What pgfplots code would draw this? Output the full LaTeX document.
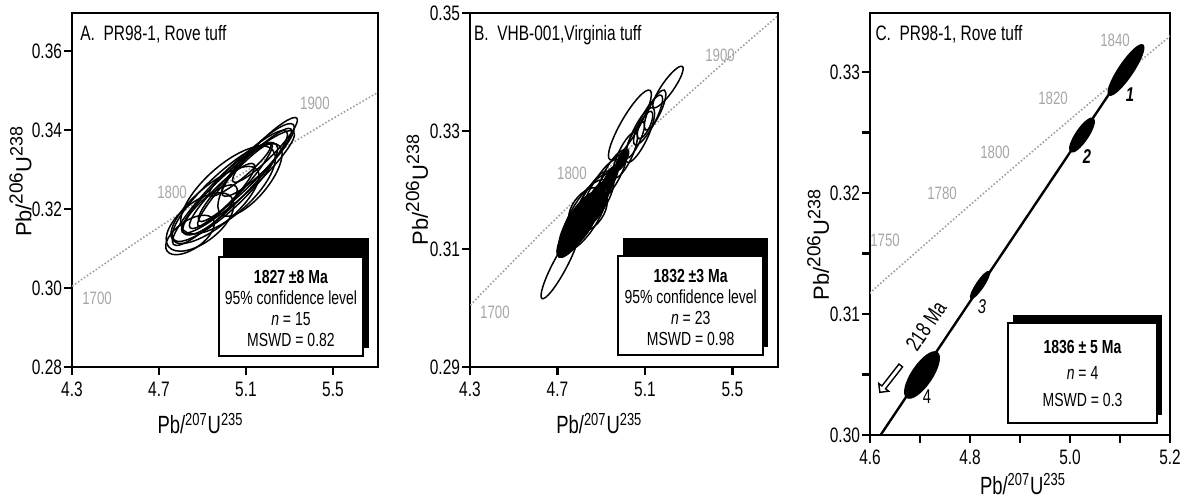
\documentclass[border=0pt]{standalone}
\usepackage{fontspec}
\setmainfont[FakeStretch=0.74]{Liberation Sans}
\newfontfamily\ylabfont{Liberation Sans}
\usepackage{pgfplots}
\pgfplotsset{compat=1.18}
\usepackage{pgfplotstable}
\usetikzlibrary{shapes.arrows}

\pgfdeclareplotmark{ellopen}{%
  \pgfmathsetmacro\ellangb{\ellang+90}%
  \pgfpathellipse{\pgfpointorigin}{\pgfpointpolar{\ellang}{\ella bp}}{\pgfpointpolar{\ellangb}{\ellb bp}}%
  \pgfusepathqstroke}
\pgfdeclareplotmark{ellfill}{%
  \pgfmathsetmacro\ellangb{\ellang+90}%
  \pgfpathellipse{\pgfpointorigin}{\pgfpointpolar{\ellang}{\ella bp}}{\pgfpointpolar{\ellangb}{\ellb bp}}%
  \pgfusepathqfillstroke}

% concordia (t in Ma, 207Pb/235U, 206Pb/238U)
\pgfplotstableread{
t x y
1600 3.8344 0.28172
1650 4.0784 0.29168
1700 4.3347 0.30176
1750 4.6040 0.31189
1760 4.6595 0.31392
1780 4.7721 0.31800
1800 4.8869 0.32210
1820 5.0040 0.32621
1830 5.0634 0.32827
1840 5.1234 0.33033
1850 5.1840 0.33241
1860 5.2453 0.33446
1900 5.4962 0.34277
1950 5.8241 0.35322
}\concordia

% error ellipses: centre x, centre y, semi-axes a, b (bp), angle (deg)
\pgfplotstableread{
x y a b ang
5.0264 0.32532 40 7.5 45
5.0632 0.32684 37.5 7 42
5.0034 0.32430 35 9 43
5.0954 0.32861 32.5 5.5 45
4.9575 0.32101 27.5 10 40
4.8885 0.31671 20 10 38
5.1552 0.33241 25 6 45
5.1874 0.33494 22.5 4.5 45
5.1184 0.32734 22.5 9 50
4.9897 0.32329 22.5 5 45
5.0494 0.32608 27.5 4.5 48
4.9345 0.31975 17.5 6 42
5.0724 0.32987 20 4 40
4.8425 0.31342 14 7 35
5.0172 0.32481 30 12 42
}\ellA

\pgfplotstableread{
x y a b ang
4.711 0.30729 19 3.5 62
4.826 0.31576 20 7 60
4.849 0.31746 19 5 62
4.871 0.31831 15 6 58
4.894 0.32000 17.5 4.5 60
5.031 0.33102 20 4.5 60
5.077 0.32932 15 4 65
5.114 0.33186 14 3.5 62
5.205 0.33746 12.5 3 55
4.949 0.32254 14 4 62
5.009 0.32593 12.5 3.5 65
5.146 0.33356 11 3 65
4.839 0.31661 12.5 8 55
4.917 0.32085 10 3 60
5.054 0.32847 10 2.5 65
4.885 0.31864 9 4 60
5.100 0.33102 7.5 2.5 65
}\ellB

\pgfplotstableread{
x y a b ang
4.803 0.31458 17.5 6 58
4.780 0.31322 15 5 60
4.757 0.31186 11 4 60
4.794 0.31407 9 6 55
4.858 0.31695 10 5 60
4.817 0.31525 12 5.5 58
4.885 0.31915 7.5 2.5 62
4.940 0.32203 7 2.2 62
4.995 0.32508 6 2 62
}\ellBfill

\pgfplotstableread{
x y a b ang
5.112 0.33017 15 3.5 56
5.024 0.32479 10 3 56
4.820 0.31240 8 1.75 56
4.704 0.30496 13.5 5 56
}\ellC

\tikzset{
  clab/.style={text=gray!70, font=\fontsize{9}{9}\selectfont},
  ttl/.style={anchor=north west, inner sep=0pt, font=\fontsize{10.5}{10.5}\selectfont},
  boxtxt/.style={align=center, font=\fontsize{9.5}{10.5}\selectfont},
}
\pgfplotsset{
  myax/.style={
    scale only axis, anchor=south west,
    axis line style={line width=1.1pt},
    every tick/.style={line width=1.1pt, black},
    major tick length=4bp, minor tick length=4bp,
    tick align=outside, tick pos=left,
    ticklabel style={font=\fontsize{10.5}{10.5}\selectfont},
    yticklabel style={inner sep=0.8bp},
    /pgf/number format/assume math mode=true,
    xticklabel style={/pgf/number format/.cd, fixed, fixed zerofill, precision=1},
    yticklabel style={/pgf/number format/.cd, fixed, fixed zerofill, precision=2},
    xlabel={Pb/\textsuperscript{207}U\textsuperscript{235}},
    ylabel={\ylabfont Pb/\raisebox{0.75ex}{\fontsize{9.5}{9.5}\selectfont 206}U\raisebox{0.75ex}{\fontsize{9}{9}\selectfont 238}},
    x label style={font=\fontsize{12.5}{12.5}\selectfont},
    y label style={font=\fontsize{11}{11}\selectfont},
  },
  conc/.style={gray!75, densely dotted, line width=0.8pt, smooth},
  ellstyle/.style={only marks, black, line width=0.75pt,
    visualization depends on={\thisrow{a}\as\ella},
    visualization depends on={\thisrow{b}\as\ellb},
    visualization depends on={\thisrow{ang}\as\ellang}},
}

\begin{document}
\begin{tikzpicture}
\useasboundingbox (0,0) rectangle (595.5bp,251bp);

% ---------------- Panel A ----------------
\begin{axis}[myax, at={(36bp,67.5bp)}, width=153bp, height=177bp,
  xmin=4.3, xmax=5.707, ymin=0.28, ymax=0.3696,
  xtick={4.3,4.7,5.1,5.5}, ytick={0.28,0.30,0.32,0.34,0.36},
  x label style={at={(axis description cs:0.42,-0.11)}, anchor=north},
  y label style={at={(axis description cs:-0.168,0.523)}, anchor=center}]
\addplot[conc] table[x=x,y=y] {\concordia};
\addplot[ellstyle, mark=ellopen] table[x=x,y=y] {\ellA};
\node[clab] at (axis cs:4.415,0.2975) {1700};
\node[clab] at (axis cs:4.76,0.3243) {1800};
\node[clab] at (axis cs:5.417,0.3468) {1900};
\node[ttl] at (rel axis cs:0.026,0.966) {A.\ \ PR98-1, Rove tuff};
\fill[black] (rel axis cs:0.493,0.054) rectangle (rel axis cs:0.971,0.364);
\draw[fill=white, line width=0.9pt] (rel axis cs:0.480,0.031) rectangle (rel axis cs:0.951,0.311);
\node[boxtxt] at (rel axis cs:0.7155,0.165) {\textbf{1827 ±8 Ma}\\95\% confidence level\\\textit{n} = 15\\MSWD = 0.82};
\end{axis}

% ---------------- Panel B ----------------
\begin{axis}[myax, at={(235bp,67.5bp)}, width=154bp, height=177bp,
  xmin=4.3, xmax=5.708, ymin=0.29, ymax=0.35,
  xtick={4.3,4.7,5.1,5.5}, ytick={0.29,0.31,0.33,0.35},
  x label style={at={(axis description cs:0.42,-0.11)}, anchor=north},
  y label style={at={(axis description cs:-0.172,0.5)}, anchor=center}]
\addplot[conc] table[x=x,y=y] {\concordia};
\addplot[ellstyle, mark=ellopen] table[x=x,y=y] {\ellB};
\addplot[ellstyle, mark=ellfill, fill=black] table[x=x,y=y] {\ellBfill};
\node[clab] at (axis cs:4.414,0.2993) {1700};
\node[clab] at (axis cs:4.766,0.3229) {1800};
\node[clab] at (axis cs:5.443,0.3429) {1900};
\node[ttl] at (rel axis cs:0.012,0.966) {B.\ \ VHB-001,Virginia tuff};
\fill[black] (rel axis cs:0.497,0.056) rectangle (rel axis cs:0.968,0.364);
\draw[fill=white, line width=0.9pt] (rel axis cs:0.481,0.034) rectangle (rel axis cs:0.952,0.314);
\node[boxtxt] at (rel axis cs:0.7165,0.168) {\textbf{1832 ±3 Ma}\\95\% confidence level\\\textit{n} = 23\\MSWD = 0.98};
\end{axis}

% ---------------- Panel C ----------------
\begin{axis}[myax, at={(435bp,33.5bp)}, width=150bp, height=211bp,
  xmin=4.6, xmax=5.2, ymin=0.30, ymax=0.33488,
  xtick={4.6,4.8,5.0,5.2}, minor xtick={4.7,4.9,5.1},
  ytick={0.30,0.31,0.32,0.33}, minor ytick={0.305,0.315,0.325},
  x label style={at={(axis description cs:0.51,-0.075)}, anchor=north},
  y label style={at={(axis description cs:-0.173,0.45)}, anchor=center}]
\addplot[conc] table[x=x,y=y] {\concordia};
\addplot[black, line width=1.2pt] coordinates {(4.618,0.2998) (5.14,0.3320)};
\addplot[ellstyle, mark=ellfill, fill=black] table[x=x,y=y] {\ellC};
\node[clab] at (axis cs:4.63,0.3161) {1750};
\node[clab] at (axis cs:4.744,0.3200) {1780};
\node[clab] at (axis cs:4.85,0.32339) {1800};
\node[clab] at (axis cs:4.966,0.32785) {1820};
\node[clab] at (axis cs:5.09,0.33264) {1840};
\node[font=\fontsize{10}{10}\selectfont\itshape\bfseries] at (axis cs:5.12,0.3281) {1};
\node[font=\fontsize{10}{10}\selectfont\itshape\bfseries] at (axis cs:5.034,0.32298) {2};
\node[font=\fontsize{10}{10}\selectfont\itshape] at (axis cs:4.824,0.31058) {3};
\node[font=\fontsize{10}{10}\selectfont] at (axis cs:4.714,0.30314) {4};
\node[rotate=56, font=\fontsize{11}{11}\selectfont, inner sep=0pt] at (axis cs:4.712,0.30901) {218 Ma};
\node[single arrow, draw, line width=0.7pt, fill=white, inner sep=0.8bp,
  single arrow head extend=2bp, minimum height=17bp, rotate=232]
  at (axis cs:4.642,0.30471) {};
\node[ttl] at (rel axis cs:0.017,0.972) {C.\ \ PR98-1, Rove tuff};
\fill[black] (rel axis cs:0.477,0.047) rectangle (rel axis cs:0.973,0.284);
\draw[fill=white, line width=0.9pt] (rel axis cs:0.46,0.028) rectangle (rel axis cs:0.957,0.265);
\node[boxtxt, font=\fontsize{9.5}{13.5}\selectfont] at (rel axis cs:0.7085,0.146) {\textbf{1836 ± 5 Ma}\\\textit{n} = 4\\MSWD = 0.3};
\end{axis}
\end{tikzpicture}
\end{document}
